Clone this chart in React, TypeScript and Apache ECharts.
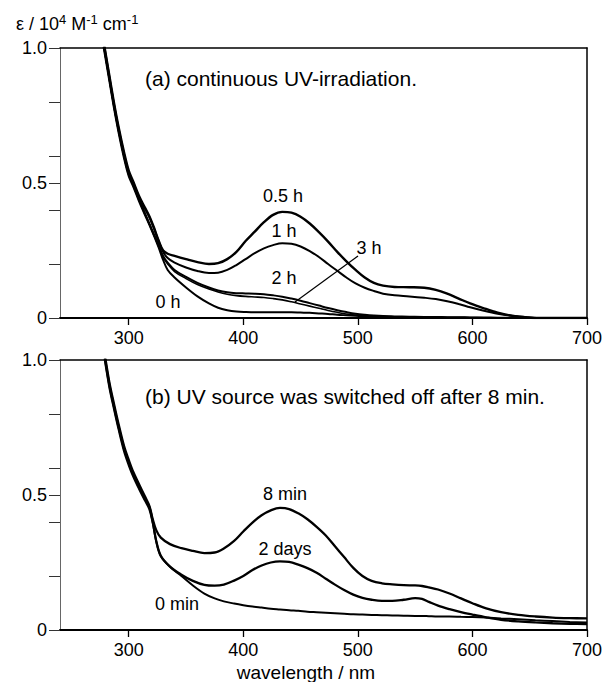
import React, { useEffect, useRef } from "react";
import * as echarts from "echarts";

// ---- Data ----
const wavelengthTicks = [300, 400, 500, 600, 700];
const absTicks = [0, 0.2, 0.4, 0.5, 0.6, 0.8, 1.0];
const absLabels = [0, 0.5, 1.0];

// Panel (a): continuous UV irradiation
const wlA = [277, 283, 287, 291, 296, 300, 304, 309, 314, 318, 322, 326, 330, 334, 340, 350, 360, 370, 378, 386, 394, 402, 410, 418, 426, 434, 442, 450, 458, 466, 474, 482, 490, 498, 506, 514, 522, 532, 545, 558, 568, 578, 588, 598, 610, 622, 635, 648, 660, 680, 700];
const a05h = [1.05, 0.9, 0.8, 0.71, 0.612, 0.546, 0.505, 0.452, 0.41, 0.377, 0.335, 0.288, 0.25, 0.238, 0.23, 0.218, 0.207, 0.2, 0.203, 0.218, 0.245, 0.285, 0.32, 0.355, 0.382, 0.393, 0.39, 0.375, 0.35, 0.318, 0.283, 0.245, 0.21, 0.178, 0.15, 0.13, 0.12, 0.115, 0.114, 0.112, 0.104, 0.09, 0.072, 0.054, 0.036, 0.02, 0.008, 0.002, 0, 0, 0];
const a1h = [1.05, 0.895, 0.795, 0.705, 0.606, 0.54, 0.5, 0.446, 0.405, 0.373, 0.332, 0.286, 0.245, 0.222, 0.205, 0.187, 0.174, 0.167, 0.168, 0.178, 0.196, 0.218, 0.24, 0.258, 0.27, 0.277, 0.275, 0.265, 0.248, 0.226, 0.2, 0.175, 0.15, 0.128, 0.112, 0.1, 0.09, 0.084, 0.08, 0.075, 0.07, 0.062, 0.052, 0.04, 0.027, 0.016, 0.008, 0.003, 0, 0, 0];
const a2h = [1.04, 0.89, 0.79, 0.7, 0.6, 0.535, 0.495, 0.44, 0.39, 0.35, 0.31, 0.27, 0.23, 0.205, 0.178, 0.152, 0.13, 0.113, 0.102, 0.095, 0.092, 0.091, 0.09, 0.088, 0.084, 0.079, 0.072, 0.064, 0.055, 0.046, 0.037, 0.029, 0.022, 0.016, 0.012, 0.009, 0.007, 0.006, 0.005, 0.004, 0.004, 0.003, 0.003, 0.002, 0.002, 0.001, 0.001, 0, 0, 0, 0];
const a3h = [1.035, 0.885, 0.785, 0.695, 0.595, 0.53, 0.49, 0.436, 0.386, 0.347, 0.307, 0.266, 0.225, 0.2, 0.172, 0.146, 0.124, 0.107, 0.096, 0.088, 0.083, 0.08, 0.078, 0.076, 0.072, 0.067, 0.06, 0.052, 0.044, 0.036, 0.028, 0.021, 0.015, 0.011, 0.008, 0.006, 0.005, 0.004, 0.003, 0.003, 0.002, 0.002, 0.002, 0.001, 0.001, 0.001, 0, 0, 0, 0, 0];
const a0h = [1.03, 0.88, 0.78, 0.69, 0.59, 0.525, 0.486, 0.432, 0.383, 0.345, 0.305, 0.262, 0.215, 0.178, 0.15, 0.113, 0.08, 0.054, 0.038, 0.029, 0.024, 0.022, 0.021, 0.021, 0.021, 0.021, 0.021, 0.02, 0.019, 0.017, 0.015, 0.012, 0.01, 0.008, 0.006, 0.005, 0.004, 0.003, 0.003, 0.002, 0.002, 0.001, 0.001, 0.001, 0, 0, 0, 0, 0, 0, 0];

// Panel (b): UV switched off after 8 min
const wlB = [278, 283, 287, 291, 296, 300, 304, 309, 314, 318, 321, 324, 328, 336, 346, 356, 366, 375, 383, 392, 400, 408, 416, 424, 432, 440, 448, 456, 464, 472, 480, 488, 496, 504, 512, 521, 530, 540, 550, 556, 562, 570, 580, 590, 600, 612, 625, 640, 655, 670, 685, 700];
const b8min = [1.05, 0.92, 0.84, 0.765, 0.68, 0.63, 0.585, 0.54, 0.496, 0.46, 0.41, 0.37, 0.342, 0.318, 0.303, 0.293, 0.285, 0.287, 0.302, 0.33, 0.365, 0.398, 0.425, 0.443, 0.452, 0.448, 0.432, 0.41, 0.382, 0.35, 0.31, 0.27, 0.23, 0.2, 0.182, 0.173, 0.169, 0.166, 0.165, 0.163, 0.158, 0.15, 0.135, 0.117, 0.099, 0.08, 0.066, 0.056, 0.05, 0.046, 0.044, 0.043];
const b2days = [1.04, 0.91, 0.83, 0.755, 0.67, 0.62, 0.575, 0.53, 0.488, 0.455, 0.4, 0.33, 0.275, 0.235, 0.205, 0.182, 0.167, 0.164, 0.168, 0.183, 0.2, 0.222, 0.239, 0.25, 0.254, 0.252, 0.242, 0.229, 0.212, 0.19, 0.168, 0.148, 0.131, 0.119, 0.112, 0.108, 0.108, 0.112, 0.118, 0.115, 0.104, 0.09, 0.077, 0.066, 0.057, 0.047, 0.038, 0.032, 0.028, 0.025, 0.023, 0.022];
const b0min = [1.03, 0.9, 0.82, 0.745, 0.66, 0.61, 0.567, 0.522, 0.48, 0.447, 0.395, 0.328, 0.273, 0.234, 0.2, 0.165, 0.135, 0.117, 0.106, 0.098, 0.092, 0.087, 0.083, 0.079, 0.076, 0.073, 0.071, 0.068, 0.066, 0.064, 0.062, 0.06, 0.058, 0.057, 0.056, 0.055, 0.054, 0.053, 0.052, 0.052, 0.051, 0.05, 0.05, 0.049, 0.048, 0.046, 0.043, 0.04, 0.036, 0.033, 0.03, 0.028];

const FONT = "'Liberation Sans', Arial, Helvetica, sans-serif";

function pairs(xs: number[], ys: number[]) {
  return xs.map((x, i) => [x, ys[i]]);
}

export default function App() {
  const ref = useRef<HTMLDivElement>(null);

  useEffect(() => {
    document.body.style.margin = "0";
    if (!ref.current) return;
    const chart = echarts.init(ref.current, undefined, { renderer: "svg" });

    const grids = [
      { left: 60, top: 48, width: 528, height: 270 },
      { left: 60, top: 360, width: 528, height: 270 },
    ];

    const xMain = (gi: number) => ({
      type: "value",
      gridIndex: gi,
      min: 240,
      max: 700,
      position: "bottom",
      axisLine: { show: true, lineStyle: { color: "#000", width: 2 } },
      axisTick: {
        show: true,
        customValues: wavelengthTicks,
        length: 7,
        inside: false,
        lineStyle: { color: "#000", width: 1.3 },
      },
      axisLabel: {
        show: true,
        customValues: wavelengthTicks,
        margin: 11,
        fontSize: 18,
        fontFamily: FONT,
        color: "#000",
      },
      splitLine: { show: false },
    });
    const xBorder = (gi: number) => ({
      type: "value",
      gridIndex: gi,
      min: 240,
      max: 700,
      position: "top",
      axisLine: { show: true, onZero: false, lineStyle: { color: "#000", width: 1.5 } },
      axisTick: { show: false },
      axisLabel: { show: false },
      splitLine: { show: false },
    });
    const yMain = (gi: number) => ({
      type: "value",
      gridIndex: gi,
      min: 0,
      max: 1,
      position: "left",
      axisLine: { show: true, onZero: false, lineStyle: { color: "#666", width: 1 } },
      axisTick: {
        show: true,
        customValues: absTicks,
        length: 11,
        inside: false,
        lineStyle: { color: "#333", width: 1 },
      },
      axisLabel: {
        show: true,
        customValues: absLabels,
        margin: 13,
        fontSize: 18,
        fontFamily: FONT,
        color: "#000",
        formatter: (v: number) => (v === 1 ? "1.0" : v === 0 ? "0" : String(v)),
      },
      splitLine: { show: false },
    });
    const yBorder = (gi: number) => ({
      type: "value",
      gridIndex: gi,
      min: 0,
      max: 1,
      position: "right",
      axisLine: { show: true, onZero: false, lineStyle: { color: "#000", width: 1.5 } },
      axisTick: { show: false },
      axisLabel: { show: false },
      splitLine: { show: false },
    });

    const line = (name: string, xi: number, yi: number, xs: number[], ys: number[], w: number) => ({
      name,
      type: "line",
      xAxisIndex: xi,
      yAxisIndex: yi,
      data: pairs(xs, ys),
      showSymbol: false,
      symbol: "none",
      smooth: 0.35,
      clip: true,
      lineStyle: { color: "#000", width: w },
      emphasis: { disabled: true },
    });

    const txt = (text: string, x: number, y: number, size: number, align = "center") => ({
      type: "text",
      x,
      y,
      silent: true,
      style: {
        text,
        fontSize: size,
        fontFamily: FONT,
        fill: "#000",
        align,
        verticalAlign: "middle",
        textAlign: align,
        textVerticalAlign: "middle",
      },
    });

    chart.setOption({
      animation: false,
      backgroundColor: "#fff",
      grid: grids,
      xAxis: [xMain(0), xBorder(0), xMain(1), xBorder(1)],
      yAxis: [yMain(0), yBorder(0), yMain(1), yBorder(1)],
      series: [
        line("0.5 h", 0, 0, wlA, a05h, 2.4),
        line("1 h", 0, 0, wlA, a1h, 2),
        line("2 h", 0, 0, wlA, a2h, 2),
        line("3 h", 0, 0, wlA, a3h, 1.6),
        line("0 h", 0, 0, wlA, a0h, 2),
        line("8 min", 2, 2, wlB, b8min, 2.3),
        line("2 days", 2, 2, wlB, b2days, 2.3),
        line("0 min", 2, 2, wlB, b0min, 2),
      ],
      graphic: [
        {
          type: "text",
          x: 16,
          y: 24,
          silent: true,
          style: {
            text: "{a|ε / 10}{s|4}{a| M}{s|-1}{a| cm}{s|-1}",
            fontFamily: FONT,
            fill: "#000",
            verticalAlign: "middle",
            textVerticalAlign: "middle",
            rich: {
              a: { fontSize: 18, fontFamily: FONT, fill: "#000", lineHeight: 22 },
              s: { fontSize: 13, fontFamily: FONT, fill: "#000", padding: [0, 0, 10, 0], lineHeight: 22 },
            },
          },
        },
        txt("(a) continuous UV-irradiation.", 145, 78, 21, "left"),
        txt("(b) UV source was switched off after 8 min.", 145, 396, 21, "left"),
        txt("0.5 h", 283, 196, 18),
        txt("1 h", 284, 231, 18),
        txt("3 h", 369, 248, 18),
        txt("2 h", 284, 278, 18),
        txt("0 h", 168, 302, 18),
        txt("8 min", 285, 494, 18),
        txt("2 days", 285, 549, 18),
        txt("0 min", 177, 604, 18),
        txt("wavelength / nm", 306, 672, 19),
        {
          type: "line",
          silent: true,
          shape: { x1: 358, y1: 256, x2: 295, y2: 302 },
          style: { stroke: "#000", lineWidth: 1.2 },
        },
      ],
    });

    return () => chart.dispose();
  }, []);

  return <div ref={ref} style={{ width: 605, height: 682 }} />;
}
